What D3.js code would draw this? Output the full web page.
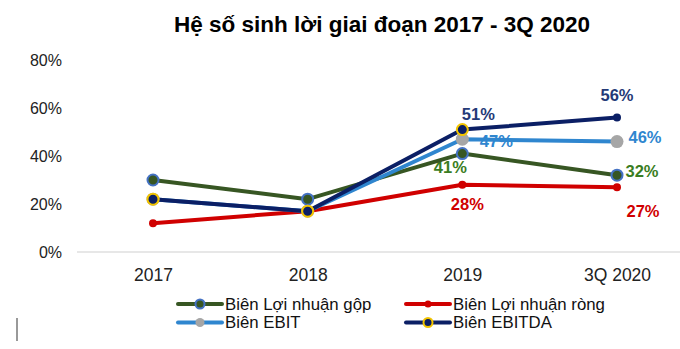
<!DOCTYPE html>
<html><head><meta charset="utf-8">
<script src="https://cdn.jsdelivr.net/npm/d3@7"></script>
<style>body{margin:0;background:#fff;} svg{display:block;font-family:"Liberation Sans",Arial,sans-serif;}</style>
</head><body>
<svg id="c" width="680" height="349"></svg>
<script>
const categories = ["2017", "2018", "2019", "3Q 2020"];
const grossMargin = [30, 22, 41, 32];
const netMargin = [12, 17, 28, 27];
const ebitMargin = [22, 17, 47, 46];
const ebitdaMargin = [22, 17, 51, 56];
const yTicks = [0, 20, 40, 60, 80];
const seriesNames = ["Biên Lợi nhuận gộp", "Biên Lợi nhuận ròng", "Biên EBIT", "Biên EBITDA"];

const series = [
  {name: seriesNames[0], values: grossMargin, line: "#375623", fill: "#375623", stroke: "#4472C4", r: 5.5, sw: 2, labels: [null,null,"41%","32%"], lc: "#3A7D22"},
  {name: seriesNames[1], values: netMargin, line: "#D00000", fill: "#D00000", stroke: "#D00000", r: 4, sw: 0, labels: [null,null,"28%","27%"], lc: "#D00000"},
  {name: seriesNames[2], values: ebitMargin, line: "#2F86CF", fill: "#A6A6A6", stroke: "#A6A6A6", r: 6.5, sw: 0, labels: [null,null,"47%","46%"], lc: "#2F86CF"},
  {name: seriesNames[3], values: ebitdaMargin, line: "#0B1F65", fill: "#0B1F65", stroke: "#F2C400", r: 5.5, sw: 2, labels: [null,null,"51%","56%"], lc: "#243A77"}
];

const svg = d3.select("#c");
const x = d3.scalePoint().domain(categories).range([153, 617]);
const y = d3.scaleLinear().domain([0, 80]).range([252, 60]);

svg.append("text").attr("x", 382).attr("y", 32).attr("text-anchor", "middle")
  .attr("font-size", 22.5).attr("font-weight", "bold").attr("fill", "#000")
  .text("Hệ số sinh lời giai đoạn 2017 - 3Q 2020");

// y axis labels
const yAxis = d3.axisLeft(y).tickValues(yTicks).tickFormat(d => d + "%").tickSize(0).tickPadding(0);
const ga = svg.append("g").attr("transform", "translate(62,0)").call(yAxis);
ga.select(".domain").remove();
ga.selectAll("text").attr("font-size", 16).attr("fill", "#222").attr("font-family", "Liberation Sans, Arial, sans-serif").attr("dy", "0.35em");

// x baseline
svg.append("line").attr("x1", 77).attr("x2", 680).attr("y1", y(0)).attr("y2", y(0))
  .attr("stroke", "#D0D0D0").attr("stroke-width", 1.2);
const xAxis = d3.axisBottom(x).tickSize(0).tickPadding(0);
const gx = svg.append("g").attr("transform", "translate(0,275)").call(xAxis);
gx.select(".domain").remove();
gx.selectAll("text").attr("font-size", 17.5).attr("fill", "#222").attr("font-family", "Liberation Sans, Arial, sans-serif").attr("dy", "0.35em");

// data labels (drawn beneath the lines, as in the original)
const labelOffsets = [
  [null, null, [-12, 14], [25, -4]],
  [null, null, [5, 19], [26, 24]],
  [null, null, [34, 2], [28, -4]],
  [null, null, [16, -15], [0, -22]]
];
series.forEach((s, k) => {
  s.labels.forEach((t, i) => {
    if (!t) return;
    const o = labelOffsets[k][i];
    svg.append("text").attr("x", x(categories[i]) + o[0]).attr("y", y(s.values[i]) + o[1])
      .attr("text-anchor", "middle").attr("dy", "0.35em")
      .attr("font-size", 16.5).attr("font-weight", "bold").attr("fill", s.lc).text(t);
  });
});

const lineGen = d3.line().x((d, i) => x(categories[i])).y(d => y(d));
const drawOrder = [1, 0, 2, 3];
drawOrder.forEach(k => {
  const s = series[k];
  svg.append("path").attr("d", lineGen(s.values)).attr("fill", "none")
    .attr("stroke", s.line).attr("stroke-width", 4).attr("stroke-linejoin", "round");
});
drawOrder.forEach(k => {
  const s = series[k];
  svg.selectAll(null).data(s.values).enter().append("circle")
    .attr("cx", (d, i) => x(categories[i])).attr("cy", d => y(d))
    .attr("r", (d, i) => (k === 3 && i === 3) ? 4 : s.r)
    .attr("fill", s.fill)
    .attr("stroke", (d, i) => (k === 3 && i === 3) ? "none" : s.stroke)
    .attr("stroke-width", s.sw);
});

// legend
const legendPos = [[178, 304], [406, 304], [178, 322.5], [406, 322.5]];
series.forEach((s, k) => {
  const [lx, ly] = legendPos[k];
  const g = svg.append("g");
  g.append("line").attr("x1", lx).attr("x2", lx + 44).attr("y1", ly).attr("y2", ly)
    .attr("stroke", s.line).attr("stroke-width", 4).attr("stroke-linecap", "round");
  g.append("circle").attr("cx", lx + 22).attr("cy", ly).attr("r", k === 1 ? 3.5 : 4.5)
    .attr("fill", s.fill).attr("stroke", s.stroke).attr("stroke-width", s.sw);
  g.append("text").attr("x", lx + 47).attr("y", ly).attr("dy", "0.35em")
    .attr("font-size", 16.8).attr("fill", "#111").text(s.name);
});

// small vertical mark at bottom-left
svg.append("line").attr("x1", 17).attr("x2", 17).attr("y1", 318).attr("y2", 341)
  .attr("stroke", "#555").attr("stroke-width", 1.2);
</script>
</body></html>
